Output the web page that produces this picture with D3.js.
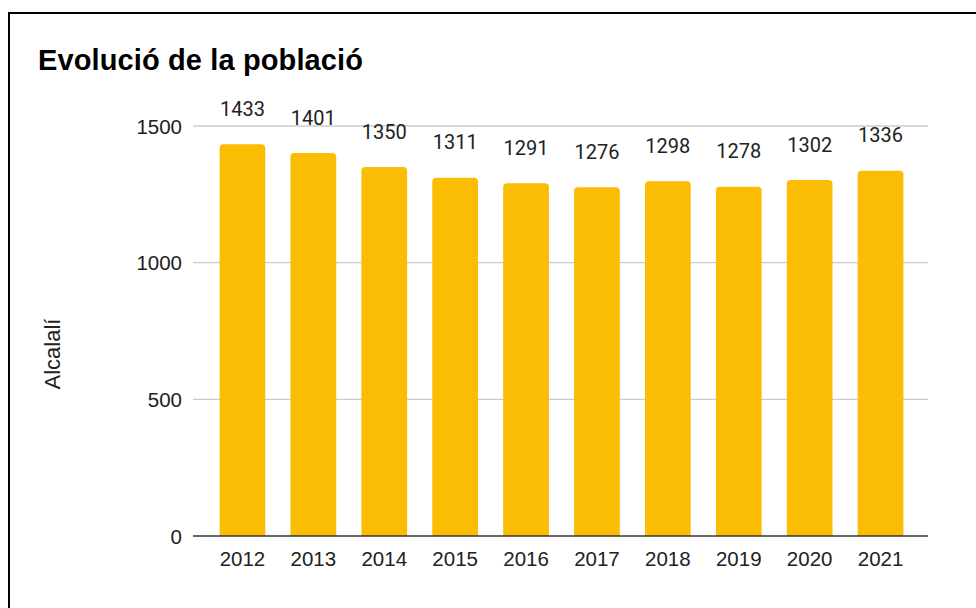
<!DOCTYPE html>
<html>
<head>
<meta charset="utf-8">
<script src="https://cdn.jsdelivr.net/npm/d3@7"></script>
<style>
html,body{margin:0;padding:0;background:#fff;}
svg{display:block;}
</style>
</head>
<body>
<svg id="chart" width="976" height="608"></svg>
<script>
const title = "Evolució de la població";
const yAxisTitle = "Alcalalí";
const years = ["2012","2013","2014","2015","2016","2017","2018","2019","2020","2021"];
const population = [1433,1401,1350,1311,1291,1276,1298,1278,1302,1336];
const yTicks = [0,500,1000,1500];

const svg = d3.select("#chart");
const W = 976, H = 608;

// frame (cropped box)
svg.append("rect").attr("x",9).attr("y",13).attr("width",W+20).attr("height",H+20)
  .attr("fill","#fff").attr("stroke","#000").attr("stroke-width",2);

const plotLeft = 193, plotRight = 928, plotTop = 126, plotBottom = 536;

const x = d3.scaleBand().domain(years).range([207,916]).paddingInner(0.355).paddingOuter(0.1775);
const y = d3.scaleLinear().domain([0,1500]).range([plotBottom, plotTop]);

// gridlines
svg.append("g").selectAll("line").data(yTicks.filter(d=>d>0)).join("line")
  .attr("x1",plotLeft).attr("x2",plotRight)
  .attr("y1",d=>y(d)).attr("y2",d=>y(d))
  .attr("stroke","#cccccc").attr("stroke-width",1.3);

// y tick labels
const yAxis = d3.axisLeft(y).tickValues(yTicks).tickSize(0).tickPadding(0).tickFormat(d3.format("d"));
const ga = svg.append("g").attr("transform",`translate(${plotLeft-11},0)`).call(yAxis);
ga.select(".domain").remove();
ga.selectAll("text").attr("font-family","'Liberation Sans', Arial, sans-serif").attr("font-size",20.5).attr("fill","#222").attr("dy","0.35em");

// bars with rounded top corners
const r = 4;
function barPath(d,i){
  const x0 = x(years[i]), w = x.bandwidth(), y0 = y(d), yb = y(0);
  return `M${x0},${yb}V${y0+r}Q${x0},${y0} ${x0+r},${y0}H${x0+w-r}Q${x0+w},${y0} ${x0+w},${y0+r}V${yb}Z`;
}
svg.append("g").selectAll("path").data(population).join("path")
  .attr("d",barPath).attr("fill","#fbbc04");

// baseline
svg.append("line").attr("x1",plotLeft).attr("x2",plotRight)
  .attr("y1",y(0)).attr("y2",y(0)).attr("stroke","#333").attr("stroke-width",1.5);

// x axis labels
const xAxis = d3.axisBottom(x).tickSize(0).tickPadding(0);
const gx = svg.append("g").attr("transform",`translate(0,${plotBottom})`).call(xAxis);
gx.select(".domain").remove();
gx.selectAll("text").attr("font-family","'Liberation Sans', Arial, sans-serif").attr("font-size",20.5).attr("fill","#222")
  .attr("dy",null).attr("y",30);

// value labels
svg.append("g").selectAll("text").data(population).join("text")
  .attr("x",(d,i)=>x(years[i])+x.bandwidth()/2)
  .attr("y",d=>y(d)-28.5)
  .attr("text-anchor","middle")
  .attr("font-family","Roboto, sans-serif").attr("font-size",20).attr("fill","#222")
  .text(d=>d);

// title
svg.append("text").attr("x",38).attr("y",70)
  .attr("font-family","'Liberation Sans', Arial, sans-serif").attr("font-weight","bold").attr("font-size",29).attr("fill","#000")
  .attr("textLength",325).attr("lengthAdjust","spacing")
  .text(title);

// y axis title
svg.append("text").attr("transform","translate(60,354) rotate(-90)")
  .attr("text-anchor","middle")
  .attr("font-family","'Liberation Sans', Arial, sans-serif").attr("font-size",22).attr("fill","#222")
  .text(yAxisTitle);
</script>
</body>
</html>
